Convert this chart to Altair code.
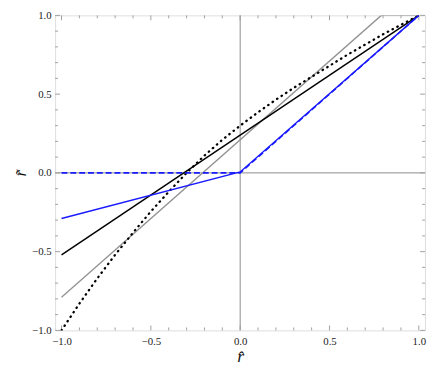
import altair as alt
import pandas as pd

# --- data ---
gray_x = [-1.0, 0.79, 1.0]
gray_y = [-0.79, 1.0, 1.0]

black_x = [-1.0, 1.0]
black_y = [-0.52, 1.0]

dot_x = [-1.0, -0.9, -0.8, -0.7, -0.6, -0.5, -0.4, -0.3, -0.2, -0.1, 0.0,
         0.1, 0.2, 0.3, 0.4, 0.5, 0.6, 0.7, 0.8, 0.9, 1.0]
dot_y = [-1.00, -0.83, -0.67, -0.52, -0.38, -0.245, -0.12, 0.00, 0.11, 0.21, 0.30,
         0.385, 0.465, 0.54, 0.61, 0.68, 0.75, 0.815, 0.88, 0.94, 1.00]

blue_x = [-1.0, 0.0, 1.0]
blue_y = [-0.29, 0.006, 1.0]

bdash_x = [-1.0, 0.0, 1.0]
bdash_y = [0.0, 0.0, 1.0]

major_ticks = [-1.0, -0.5, 0.0, 0.5, 1.0]
minor_ticks = [-0.9, -0.8, -0.7, -0.6, -0.4, -0.3, -0.2, -0.1,
               0.1, 0.2, 0.3, 0.4, 0.6, 0.7, 0.8, 0.9]

W, H = 377, 321
FONT = "Liberation Serif"
FRAME = "#a0a0a0"

xs = alt.Scale(domain=[-1.036, 1.035], nice=False, zero=False)
ys = alt.Scale(domain=[-1.0, 1.0], nice=False, zero=False)

xaxis = alt.Axis(values=major_ticks, format=".1f", ticks=False, domain=False, grid=False,
                 labelFont=FONT, labelFontSize=11, labelColor="#222", labelPadding=5,
                 title="r\u0302", titleFont=FONT, titleFontStyle="italic", titleFontWeight="normal",
                 titleFontSize=18, titlePadding=2, titleColor="#111")
yaxis = alt.Axis(values=major_ticks, format=".1f", ticks=False, domain=False, grid=False,
                 labelFont=FONT, labelFontSize=11, labelColor="#222", labelPadding=4,
                 title="r\u0303", titleFont=FONT, titleFontStyle="italic", titleFontWeight="normal",
                 titleFontSize=17, titlePadding=2, titleColor="#111")


def line_df(xv, yv):
    return pd.DataFrame({"x": xv, "y": yv})


def series(xv, yv, **props):
    return alt.Chart(line_df(xv, yv)).mark_line(clip=True, **props).encode(
        x=alt.X("x:Q", scale=xs, axis=xaxis),
        y=alt.Y("y:Q", scale=ys, axis=yaxis),
    )


major_df = pd.DataFrame({"v": major_ticks})
minor_df = pd.DataFrame({"v": minor_ticks})


def tick_layers(df, length):
    base = alt.Chart(df).mark_rule(color=FRAME, strokeWidth=1)
    return [
        base.encode(x=alt.X("v:Q", scale=xs), y=alt.value(H), y2=alt.value(H - length)),
        base.encode(x=alt.X("v:Q", scale=xs), y=alt.value(0), y2=alt.value(length)),
        base.encode(y=alt.Y("v:Q", scale=ys), x=alt.value(0), x2=alt.value(length)),
        base.encode(y=alt.Y("v:Q", scale=ys), x=alt.value(W), x2=alt.value(W - length)),
    ]


zero_df = pd.DataFrame({"v": [0.0]})
zero_v = alt.Chart(zero_df).mark_rule(color="#8c8c8c", strokeWidth=1).encode(
    x=alt.X("v:Q", scale=xs), y=alt.value(0), y2=alt.value(H))
zero_h = alt.Chart(zero_df).mark_rule(color="#8c8c8c", strokeWidth=1).encode(
    y=alt.Y("v:Q", scale=ys), x=alt.value(0), x2=alt.value(W))

layers = [zero_v, zero_h]
layers += tick_layers(major_df, 5)
layers += tick_layers(minor_df, 3)
layers += [
    series(gray_x, gray_y, color="#939393", strokeWidth=1.4),
    series(black_x, black_y, color="#000000", strokeWidth=1.5),
    series(dot_x, dot_y, color="#000000", strokeWidth=2.3, strokeDash=[0.5, 5], strokeCap="round"),
    series(blue_x, blue_y, color="#1a1aff", strokeWidth=1.5),
    series(bdash_x, bdash_y, color="#1a1aff", strokeWidth=1.6, strokeDash=[6, 3]),
]

chart = alt.layer(*layers).properties(
    width=W, height=H,
    autosize=alt.AutoSizeParams(type="none"),
    padding={"left": 48, "top": 4, "right": 3, "bottom": 45},
).configure_view(stroke=FRAME, strokeWidth=1).configure(background="white", font=FONT)

chart.save("out.html", embed_options={"renderer": "svg", "actions": False})
